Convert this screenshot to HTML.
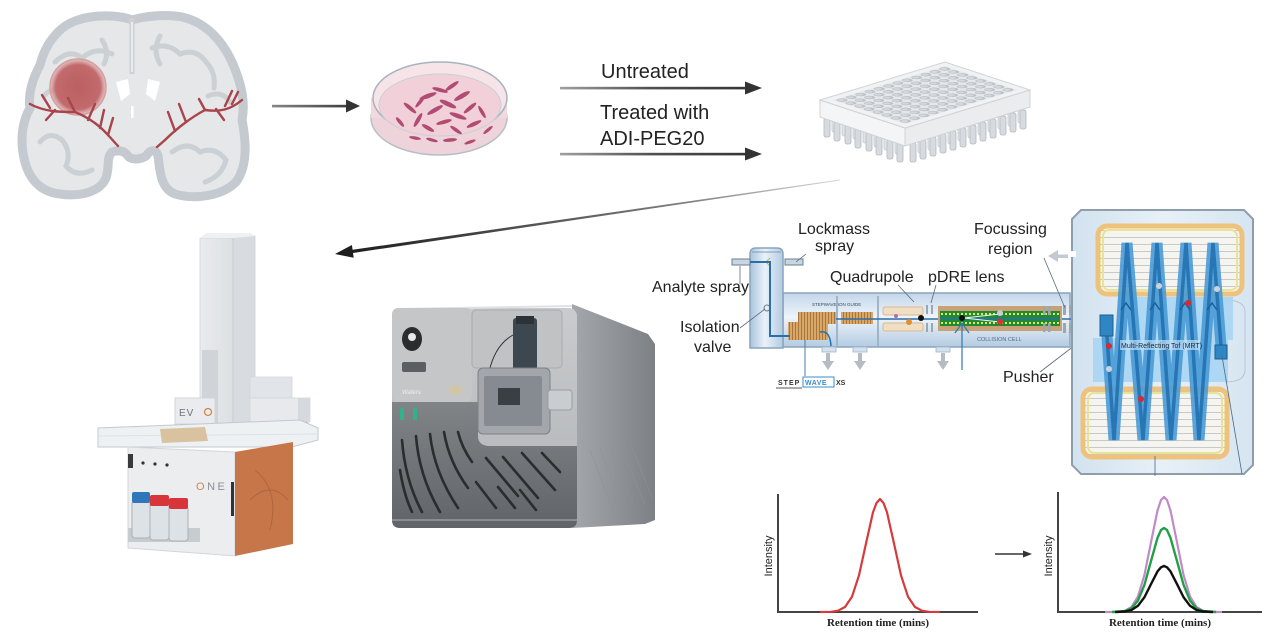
<!DOCTYPE html>
<html><head><meta charset="utf-8">
<style>
html,body{margin:0;padding:0;background:#fff;}
svg{display:block;}
text{font-family:"Liberation Sans",Arial,sans-serif;}
</style></head><body>
<svg width="1280" height="640" viewBox="0 0 1280 640" xmlns="http://www.w3.org/2000/svg">
<defs>
 <linearGradient id="gArr" x1="560" y1="0" x2="760" y2="0" gradientUnits="userSpaceOnUse"><stop offset="0" stop-color="#a0a0a0"/><stop offset=".45" stop-color="#505050"/><stop offset="1" stop-color="#333"/></linearGradient>
 <linearGradient id="gArr0" x1="270" y1="0" x2="360" y2="0" gradientUnits="userSpaceOnUse"><stop offset="0" stop-color="#888"/><stop offset="1" stop-color="#333"/></linearGradient>
 <linearGradient id="gDiag" x1="840" y1="180" x2="335" y2="254" gradientUnits="userSpaceOnUse"><stop offset="0" stop-color="#d8d8d8"/><stop offset=".3" stop-color="#808080"/><stop offset="1" stop-color="#1a1a1a"/></linearGradient>
 <radialGradient id="gTum" cx=".5" cy=".5" r=".5"><stop offset="0" stop-color="#bb5f62"/><stop offset=".8" stop-color="#c26a6c"/><stop offset="1" stop-color="#d99a9a" stop-opacity=".5"/></radialGradient>
 <linearGradient id="gTube" x1="0" y1="0" x2="1" y2="0"><stop offset="0" stop-color="#a9c4dd"/><stop offset=".45" stop-color="#e9f1f9"/><stop offset="1" stop-color="#b3cbe2"/></linearGradient>
 <linearGradient id="gBody" x1="0" y1="0" x2="0" y2="1"><stop offset="0" stop-color="#c2d7ea"/><stop offset=".45" stop-color="#eef4fa"/><stop offset="1" stop-color="#b3cbe2"/></linearGradient>
 <linearGradient id="gSide" x1="0" y1="0" x2="1" y2="0"><stop offset="0" stop-color="#a4a7ab"/><stop offset="1" stop-color="#7d8084"/></linearGradient>
 <linearGradient id="gFront" x1="0" y1="0" x2="0" y2="1"><stop offset="0" stop-color="#c9cbcd"/><stop offset="1" stop-color="#b0b3b6"/></linearGradient>
 <linearGradient id="gLow" x1="0" y1="0" x2="0" y2="1"><stop offset="0" stop-color="#808487"/><stop offset="1" stop-color="#616468"/></linearGradient>
 <linearGradient id="gMRT" x1="0" y1="0" x2="1" y2="0"><stop offset="0" stop-color="#d2e2ef"/><stop offset=".5" stop-color="#e7f0f7"/><stop offset="1" stop-color="#d6e5f1"/></linearGradient>
 <linearGradient id="gTower" x1="0" y1="0" x2="1" y2="0"><stop offset="0" stop-color="#e9ebee"/><stop offset="1" stop-color="#dcdfe3"/></linearGradient>
 <pattern id="hatch" width="3" height="4" patternUnits="userSpaceOnUse"><rect width="3" height="4" fill="#d8a868"/><rect width="1" height="4" fill="#a9753b"/></pattern>
 <pattern id="wells" width="1" height="1" patternUnits="userSpaceOnUse"><rect width="1" height="1" fill="#e6e8eb"/><circle cx=".5" cy=".5" r=".42" fill="#bcc2c8"/><circle cx=".45" cy=".45" r=".27" fill="#d3d7db"/></pattern>
 <pattern id="frameLines" width="10" height="7" patternUnits="userSpaceOnUse"><rect width="10" height="7" fill="#f6f4ee"/><rect y="6" width="10" height="1" fill="#c6c9cd"/></pattern>
</defs>

<!-- ================= BRAIN ================= -->
<g>
 <path d="M132,20 C120,15 95,14 78,20 C58,26 45,45 40,65 C32,80 28,95 30,108 C22,122 20,140 24,158 C28,178 40,192 60,194 C80,197 100,192 106,178 C110,166 106,158 112,152 C118,150 124,150 128,156 C131,160 140,160 146,156 C150,150 156,148 158,156 C160,170 160,188 175,194 C195,200 222,196 236,182 C248,166 246,140 242,120 C246,100 240,80 232,62 C222,40 205,22 182,17 C165,14 145,16 132,20 Z" fill="#e5e7e9" stroke="#c4cacf" stroke-width="9"/>
 <g fill="none" stroke="#cbd0d5" stroke-width="5" stroke-linecap="round">
  <path d="M55,62 Q70,48 82,58 Q96,46 112,54"/>
  <path d="M152,48 Q168,42 180,54 Q196,48 206,62 Q216,72 214,88"/>
  <path d="M40,142 Q50,130 62,140 Q72,152 66,166 Q76,178 92,170"/>
  <path d="M172,152 Q188,140 200,152 Q215,146 226,160 Q222,176 205,182"/>
  <path d="M44,96 Q52,86 60,92"/>
  <path d="M208,96 Q222,90 230,102"/>
  <path d="M102,40 Q110,52 104,64"/>
  <path d="M160,36 Q152,50 160,64"/>
 </g>
 <line x1="132" y1="18" x2="132" y2="74" stroke="#ccd1d5" stroke-width="5"/>
 <line x1="132" y1="22" x2="132" y2="72" stroke="#ffffff" stroke-width="1.2"/>
 <path d="M116,82 L128,79 L130,94 L121,101 Z" fill="#ffffff"/>
 <path d="M148,79 L160,82 L155,101 L146,94 Z" fill="#ffffff"/>
 <rect x="131" y="106" width="2.5" height="12" fill="#ffffff"/>
 <circle cx="78" cy="87" r="28" fill="url(#gTum)" stroke="#d7a0a0" stroke-width="1.5"/>
 <g fill="none" stroke="#a8444a" stroke-width="2.4" stroke-linecap="round">
  <path d="M30,104 C45,112 60,112 75,112 C90,118 100,126 108,135 L118,146"/>
  <path d="M75,112 L68,98"/><path d="M50,108 L42,95"/><path d="M88,120 L95,104"/>
  <path d="M100,128 L104,110"/><path d="M108,135 L113,118"/><path d="M55,110 L46,120"/>
  <path d="M242,100 C230,110 220,112 205,110 C190,118 175,130 165,140 L157,147"/>
  <path d="M205,110 L199,99"/><path d="M225,106 L232,91"/><path d="M186,122 L179,104"/>
  <path d="M175,131 L168,112"/><path d="M216,109 L224,120"/><path d="M232,104 L238,92"/>
 </g>
</g>

<!-- arrow brain -> dish -->
<rect x="272" y="104.8" width="76" height="2.6" fill="url(#gArr0)"/>
<polygon points="360,106 346,99.5 346,112.5" fill="#333"/>

<!-- ================= PETRI DISH ================= -->
<g>
 <ellipse cx="439" cy="118" rx="68" ry="37" fill="#efd3da" stroke="#b6bfc8" stroke-width="1.5"/>
 <rect x="371" y="98" width="136" height="20" fill="#f1d9df"/>
 <ellipse cx="440" cy="98" rx="67" ry="36" fill="#f6e4e8" stroke="#a8b3bd" stroke-width="1.5"/>
 <ellipse cx="440" cy="105" rx="61" ry="31" fill="#f1d0d9" stroke="#c9d0d6" stroke-width="1"/>
 <g fill="#b24b72">
  <ellipse cx="410" cy="108" rx="8" ry="2" transform="rotate(40 410 108)"/>
  <ellipse cx="418" cy="120" rx="8" ry="2" transform="rotate(-60 418 120)"/>
  <ellipse cx="428" cy="96" rx="9" ry="2.2" transform="rotate(-20 428 96)"/>
  <ellipse cx="440" cy="90" rx="8" ry="2" transform="rotate(15 440 90)"/>
  <ellipse cx="452" cy="86" rx="8" ry="2" transform="rotate(-35 452 86)"/>
  <ellipse cx="462" cy="96" rx="9" ry="2.3" transform="rotate(-30 462 96)"/>
  <ellipse cx="470" cy="108" rx="8" ry="2" transform="rotate(-40 470 108)"/>
  <ellipse cx="448" cy="104" rx="9" ry="2.4" transform="rotate(25 448 104)"/>
  <ellipse cx="435" cy="110" rx="9" ry="2.2" transform="rotate(-30 435 110)"/>
  <ellipse cx="458" cy="116" rx="9" ry="2.2" transform="rotate(20 458 116)"/>
  <ellipse cx="444" cy="122" rx="8" ry="2" transform="rotate(-15 444 122)"/>
  <ellipse cx="428" cy="128" rx="7" ry="2" transform="rotate(30 428 128)"/>
  <ellipse cx="474" cy="124" rx="8" ry="2" transform="rotate(-25 474 124)"/>
  <ellipse cx="482" cy="112" rx="7" ry="1.8" transform="rotate(60 482 112)"/>
  <ellipse cx="400" cy="122" rx="6" ry="1.8" transform="rotate(50 400 122)"/>
  <ellipse cx="415" cy="138" rx="6" ry="1.6" transform="rotate(10 415 138)"/>
  <ellipse cx="450" cy="140" rx="7" ry="1.8" transform="rotate(-5 450 140)"/>
  <ellipse cx="470" cy="142" rx="6" ry="1.6" transform="rotate(-20 470 142)"/>
  <ellipse cx="432" cy="140" rx="6" ry="1.6" transform="rotate(15 432 140)"/>
  <ellipse cx="488" cy="130" rx="6" ry="1.6" transform="rotate(-40 488 130)"/>
  <ellipse cx="420" cy="102" rx="7" ry="1.8" transform="rotate(-50 420 102)"/>
  <ellipse cx="456" cy="130" rx="7" ry="1.8" transform="rotate(35 456 130)"/>
 </g>
</g>

<!-- treatment arrows -->
<text x="601" y="78" font-size="20" fill="#222">Untreated</text>
<rect x="560" y="86.8" width="188" height="2.6" fill="url(#gArr)"/>
<polygon points="762,88 745,81.5 745,94.5" fill="#333"/>
<text x="600" y="119" font-size="20" fill="#222">Treated with</text>
<text x="600" y="145" font-size="20" fill="#222">ADI-PEG20</text>
<rect x="560" y="152.8" width="188" height="2.6" fill="url(#gArr)"/>
<polygon points="762,154 745,147.5 745,160.5" fill="#333"/>

<!-- ================= 96 WELL PLATE ================= -->
<g>
 <g fill="#e2e5e8" stroke="#c3c8cd" stroke-width="0.8">
  <rect x="918" y="136" width="6" height="17" rx="2"/><rect x="928" y="133" width="6" height="17" rx="2"/>
  <rect x="938" y="130" width="6" height="17" rx="2"/><rect x="948" y="127" width="6" height="17" rx="2"/>
  <rect x="958" y="124" width="6" height="17" rx="2"/><rect x="968" y="121" width="6" height="17" rx="2"/>
  <rect x="978" y="118" width="6" height="17" rx="2"/><rect x="988" y="115" width="6" height="17" rx="2"/>
  <rect x="998" y="112" width="6" height="17" rx="2"/><rect x="1008" y="109" width="6" height="17" rx="2"/>
  <rect x="1018" y="106" width="6" height="17" rx="2"/>
  <rect x="832" y="115" width="6" height="17" rx="2"/><rect x="842" y="119" width="6" height="17" rx="2"/>
  <rect x="853" y="122" width="6" height="17" rx="2"/><rect x="863" y="126" width="6" height="17" rx="2"/>
  <rect x="874" y="130" width="6" height="17" rx="2"/><rect x="884" y="133" width="6" height="17" rx="2"/>
  <rect x="895" y="137" width="6" height="17" rx="2"/>
 </g>
 <g fill="#d7dbdf" stroke="#b3b9bf" stroke-width="0.8">
  <rect x="910" y="143" width="6" height="19" rx="2"/><rect x="920" y="140" width="6" height="19" rx="2"/>
  <rect x="930" y="137" width="6" height="19" rx="2"/><rect x="940" y="134" width="6" height="19" rx="2"/>
  <rect x="950" y="131" width="6" height="19" rx="2"/><rect x="960" y="128" width="6" height="19" rx="2"/>
  <rect x="970" y="125" width="6" height="19" rx="2"/><rect x="980" y="122" width="6" height="19" rx="2"/>
  <rect x="990" y="119" width="6" height="19" rx="2"/><rect x="1000" y="116" width="6" height="19" rx="2"/>
  <rect x="1010" y="113" width="6" height="19" rx="2"/><rect x="1020" y="110" width="6" height="19" rx="2"/>
  <rect x="824" y="118" width="6" height="19" rx="2"/><rect x="834" y="122" width="6" height="19" rx="2"/>
  <rect x="845" y="125" width="6" height="19" rx="2"/><rect x="855" y="129" width="6" height="19" rx="2"/>
  <rect x="866" y="132" width="6" height="19" rx="2"/><rect x="876" y="136" width="6" height="19" rx="2"/>
  <rect x="887" y="140" width="6" height="19" rx="2"/><rect x="897" y="143" width="6" height="19" rx="2"/>
 </g>
 <polygon points="820,100 905,128 905,146 820,117" fill="#f4f5f6" stroke="#cfd3d7" stroke-width="1"/>
 <polygon points="905,128 1030,90 1030,107 905,146" fill="#eaecee" stroke="#cfd3d7" stroke-width="1"/>
 <g transform="matrix(9.328,-2.836,9.043,2.979,832.86,100.1)">
  <rect x="-0.7" y="-0.7" width="13.4" height="9.4" fill="#f1f2f4" stroke="#cfd3d7" stroke-width="1" vector-effect="non-scaling-stroke"/>
  <rect x="0" y="0" width="12" height="8" fill="url(#wells)"/>
 </g>
</g>

<!-- diagonal arrow -->
<polygon points="335,254 353.7,257.8 353,253 840.1,180.5 839.9,179.5 352.6,249.8 351.9,245" fill="url(#gDiag)"/>

<!-- ================= EVO ONE ================= -->
<g>
 <rect x="233" y="236" width="22" height="194" fill="#d8dbdf" stroke="#cdd1d6" stroke-width="0.8"/>
 <rect x="200" y="238" width="33" height="192" fill="url(#gTower)" stroke="#d3d7db" stroke-width="0.8"/>
 <polygon points="200,238 206,233 250,233 255,236 233,238" fill="#eef0f2"/>
 <rect x="202" y="350" width="16" height="74" fill="#d0d3d7"/>
 <line x1="233" y1="238" x2="233" y2="430" stroke="#c8ccd1" stroke-width="1"/>
 <polygon points="250,377 292,377 292,398 250,398" fill="#e1e4e8" stroke="#d3d7db" stroke-width="0.8"/>
 <rect x="250" y="398" width="60" height="24" fill="#e7e9ec" stroke="#d3d7db" stroke-width="0.8"/>
 <rect x="298" y="398" width="12" height="24" fill="#d6d9dd"/>
 <line x1="277" y1="422" x2="277" y2="436" stroke="#9aa0a6" stroke-width="3"/>
 <line x1="306" y1="422" x2="312" y2="432" stroke="#9aa0a6" stroke-width="2"/>
 <rect x="175" y="398" width="40" height="26" fill="#e9ebee" stroke="#d2d6da" stroke-width="1"/>
 <text x="179" y="416" font-size="10" fill="#6f757c" letter-spacing="1">EV</text>
 <circle cx="208" cy="412" r="3.5" fill="none" stroke="#d0884c" stroke-width="1.3"/>
 <line x1="182" y1="424" x2="182" y2="433" stroke="#9aa0a6" stroke-width="2.5"/>
 <line x1="196" y1="424" x2="196" y2="434" stroke="#9aa0a6" stroke-width="3"/>
 <line x1="215" y1="424" x2="217" y2="440" stroke="#9aa0a6" stroke-width="1.5"/>
 <polygon points="98,428 300,420 318,428 318,440 292,447 98,447" fill="#eef1f3" stroke="#c3c9cf" stroke-width="1"/>
 <line x1="98" y1="436" x2="318" y2="434" stroke="#dce1e5" stroke-width="1"/>
 <polygon points="160,429 205,427 208,441 162,443" fill="#d9c2a0"/>
 <polygon points="128,447 235,452 235,556 128,548" fill="#ebedef" stroke="#d3d6da" stroke-width="1"/>
 <polygon points="235,452 293,442 293,544 235,556" fill="#c7764a"/>
 <path d="M255,470 Q280,490 270,530 M250,500 Q270,480 288,500" fill="none" stroke="#b0653d" stroke-width="1"/>
 <rect x="231" y="482" width="3" height="34" fill="#333"/>
 <rect x="128" y="454" width="5" height="14" fill="#3a3a3a"/>
 <circle cx="143" cy="463" r="1.6" fill="#333"/><circle cx="155" cy="464" r="1.6" fill="#333"/><circle cx="167" cy="465" r="1.6" fill="#333"/>
 <text x="196" y="490" font-size="11" fill="#8b9097" letter-spacing="2.5"><tspan fill="#d0884c">O</tspan>NE</text>
 <rect x="128" y="528" width="72" height="14" fill="#c7ccd1"/>
 <rect x="132" y="501" width="18" height="37" rx="3" fill="#dde2e6" stroke="#aab1b8" stroke-width="1"/>
 <rect x="150" y="504" width="19" height="36" rx="3" fill="#dde2e6" stroke="#aab1b8" stroke-width="1"/>
 <rect x="169" y="506" width="19" height="35" rx="3" fill="#dde2e6" stroke="#aab1b8" stroke-width="1"/>
 <rect x="132" y="492" width="18" height="11" rx="2" fill="#2f77b8"/>
 <rect x="150" y="495" width="19" height="11" rx="2" fill="#d8343c"/>
 <rect x="169" y="498" width="19" height="11" rx="2" fill="#d8343c"/>
</g>

<!-- ================= WATERS MS ================= -->
<g>
 <polygon points="572,304 648,334 655,344 655,520 645,524 572,528" fill="url(#gSide)"/>
 <g stroke="#8e9195" stroke-width="0.8" opacity=".7">
  <line x1="590" y1="450" x2="615" y2="515"/><line x1="600" y1="448" x2="625" y2="512"/>
  <line x1="610" y1="446" x2="635" y2="508"/><line x1="620" y1="444" x2="645" y2="505"/>
  <line x1="630" y1="442" x2="652" y2="498"/>
 </g>
 <rect x="392" y="308" width="185" height="220" rx="8" fill="url(#gFront)"/>
 <line x1="398" y1="309" x2="572" y2="306" stroke="#dfe1e3" stroke-width="2"/>
 <rect x="392" y="308" width="80" height="94" rx="6" fill="#c4c6c8"/>
 <rect x="472" y="310" width="90" height="58" rx="4" fill="#c0c2c4" stroke="#a9acaf" stroke-width="1"/>
 <path d="M392,402 L478,402 L478,436 Q478,446 490,446 L577,446 L577,520 Q577,528 569,528 L400,528 Q392,528 392,520 Z" fill="url(#gLow)"/>
 <g stroke="#2a2c2e" stroke-width="2.6" fill="none" stroke-linecap="round">
  <path d="M402,440 Q405,480 422,512"/>
  <path d="M416,436 Q419,476 440,512"/>
  <path d="M430,434 Q434,472 458,508"/>
  <path d="M444,432 Q449,462 468,488"/>
  <path d="M458,432 Q462,448 472,462"/>
  <path d="M400,470 Q404,495 412,512"/>
  <line x1="486" y1="458" x2="518" y2="496"/>
  <line x1="503" y1="457" x2="538" y2="498"/>
  <line x1="522" y1="453" x2="555" y2="490"/>
  <line x1="542" y1="453" x2="560" y2="472"/>
  <line x1="476" y1="482" x2="496" y2="508"/>
  <line x1="498" y1="487" x2="515" y2="508"/>
  <line x1="520" y1="490" x2="536" y2="510"/>
 </g>
 <line x1="392" y1="520" x2="577" y2="520" stroke="#8a8d91" stroke-width="2"/>
 <ellipse cx="412" cy="339" rx="10" ry="12" fill="#2a2c2e"/>
 <circle cx="412" cy="337" r="4" fill="#e8e8e8"/>
 <rect x="402" y="362" width="24" height="10" rx="2" fill="#5b5e62"/>
 <text x="402" y="394" font-size="6" fill="#eef0f2" font-style="italic">Waters</text>
 <rect x="450" y="386" width="12" height="8" fill="#d7c39a" opacity=".8"/>
 <rect x="400" y="408" width="4" height="12" rx="1" fill="#2fb38a"/>
 <rect x="413" y="408" width="4" height="12" rx="1" fill="#2fb38a"/>
 <rect x="513" y="318" width="24" height="54" rx="3" fill="#3c4750"/>
 <rect x="516" y="316" width="18" height="8" fill="#2b333a"/>
 <path d="M513,335 Q495,345 489,372" fill="none" stroke="#333" stroke-width="1"/>
 <rect x="478" y="368" width="72" height="66" rx="5" fill="#a3a7ab" stroke="#7d8186" stroke-width="1"/>
 <rect x="484" y="376" width="58" height="50" rx="2" fill="#868b91"/>
 <rect x="498" y="388" width="22" height="17" fill="#3a3f44"/>
 <rect x="548" y="390" width="24" height="20" rx="3" fill="#c9ccd0" stroke="#9a9ea2" stroke-width="1"/>
</g>

<!-- ================= SCHEMATIC ================= -->
<g>
 <rect x="783" y="293" width="287" height="54" fill="url(#gBody)" stroke="#8aa4bc" stroke-width="1.5"/>
 <line x1="837" y1="296" x2="837" y2="346" stroke="#9db6cc" stroke-width="2"/>
 <line x1="878" y1="296" x2="878" y2="346" stroke="#9db6cc" stroke-width="2"/>
 <path d="M750,348 L750,254 Q750,248 756,248 L777,248 Q783,248 783,254 L783,348 Z" fill="url(#gTube)" stroke="#8aa4bc" stroke-width="1.5"/>
 <line x1="752" y1="252" x2="781" y2="252" stroke="#7f9bb5" stroke-width="1"/>
 <rect x="732" y="259" width="18" height="6" fill="#c9d6e2" stroke="#6a7f94" stroke-width="1"/>
 <rect x="785" y="259" width="18" height="6" fill="#c9d6e2" stroke="#6a7f94" stroke-width="1"/>
 <circle cx="767" cy="308" r="3" fill="none" stroke="#6a7f94" stroke-width="1"/>
 <path d="M770,258 L766,262 L770,266" fill="none" stroke="#c9b04a" stroke-width="1"/>
 <rect x="822" y="347" width="14" height="5" fill="#d5e2ee" stroke="#9db6cc" stroke-width="0.8"/>
 <rect x="853" y="347" width="14" height="5" fill="#d5e2ee" stroke="#9db6cc" stroke-width="0.8"/>
 <rect x="936" y="347" width="14" height="5" fill="#d5e2ee" stroke="#9db6cc" stroke-width="0.8"/>
 <g fill="#b5bcc3">
  <rect x="826" y="353" width="4" height="9"/><polygon points="822,361 834,361 828,370"/>
  <rect x="858" y="353" width="4" height="9"/><polygon points="854,361 866,361 860,370"/>
  <rect x="941" y="353" width="4" height="9"/><polygon points="937,361 949,361 943,370"/>
 </g>
 <rect x="798" y="312" width="38" height="12" fill="url(#hatch)"/>
 <rect x="841" y="312" width="32" height="12" fill="url(#hatch)"/>
 <rect x="788" y="322" width="40" height="18" fill="url(#hatch)"/>
 <text x="812" y="306" font-size="4.5" fill="#3a4a5a">STEPWAVE ION GUIDE</text>
 <polyline points="750,262 770,262 770,336 790,336" fill="none" stroke="#2b6fa8" stroke-width="2"/>
 <path d="M820,332 Q830,330 831,346" fill="none" stroke="#2b6fa8" stroke-width="1.5"/>
 <line x1="836" y1="319" x2="1105" y2="319" stroke="#2b6fa8" stroke-width="1.6"/>
 <rect x="883" y="307" width="40" height="8" rx="2" fill="#f1dfc4" stroke="#d8b990" stroke-width="1"/>
 <rect x="883" y="323" width="40" height="8" rx="2" fill="#f1dfc4" stroke="#d8b990" stroke-width="1"/>
 <circle cx="896" cy="316" r="2" fill="#b36ab8"/>
 <circle cx="909" cy="322" r="3" fill="#e0902f"/>
 <circle cx="921" cy="318" r="3" fill="#111"/>
 <g fill="#9aa7b3"><rect x="926" y="305" width="2" height="9"/><rect x="931" y="305" width="2" height="9"/><rect x="926" y="323" width="2" height="9"/><rect x="931" y="323" width="2" height="9"/></g>
 <rect x="938" y="306" width="124" height="25" fill="#c8a276"/>
 <rect x="940" y="311" width="120" height="15" fill="#1f8a30"/>
 <line x1="941" y1="314" x2="1059" y2="314" stroke="#e4e46a" stroke-width="2" stroke-dasharray="2,2"/>
 <line x1="941" y1="323" x2="1059" y2="323" stroke="#e4e46a" stroke-width="2" stroke-dasharray="2,2"/>
 <line x1="940" y1="318.5" x2="1060" y2="318.5" stroke="#2b6fa8" stroke-width="1.5"/>
 <path d="M964,318 L1000,314 M964,318 L1000,322" stroke="#f4f4f4" stroke-width="1"/>
 <circle cx="962" cy="318" r="3" fill="#111"/>
 <circle cx="1000" cy="313" r="3" fill="#c8cdd2"/>
 <circle cx="1000" cy="322" r="3" fill="#e03030"/>
 <text x="977" y="341" font-size="5.5" fill="#4d6e8a">COLLISION CELL</text>
 <line x1="962" y1="323" x2="962" y2="370" stroke="#2b7ab0" stroke-width="1.2"/>
 <polyline points="955,333 962,323 969,333" fill="none" stroke="#2b7ab0" stroke-width="1.2"/>
 <g fill="#9aa7b3"><rect x="1043" y="306" width="2.5" height="9"/><rect x="1048" y="306" width="2.5" height="9"/><rect x="1043" y="323" width="2.5" height="9"/><rect x="1048" y="323" width="2.5" height="9"/>
 <rect x="1063" y="305" width="3" height="10"/><rect x="1069" y="305" width="3" height="10"/><rect x="1063" y="323" width="3" height="10"/><rect x="1069" y="323" width="3" height="10"/></g>
 <line x1="805" y1="340" x2="805" y2="376" stroke="#4a7ea8" stroke-width="1"/>
 <text x="778" y="385" font-size="7" font-weight="bold" fill="#333" letter-spacing="1">STEP</text>
 <line x1="776" y1="388" x2="802" y2="388" stroke="#555" stroke-width="1"/>
 <rect x="803" y="377" width="31" height="10" fill="#fff" stroke="#3a8cc7" stroke-width="1"/>
 <text x="805" y="385" font-size="7" font-weight="bold" fill="#3a8cc7" letter-spacing="0.5">WAVE</text>
 <text x="836" y="385" font-size="7" font-weight="bold" fill="#333">XS</text>
 <g stroke="#5a6a7a" stroke-width="0.8" fill="none">
  <line x1="740" y1="266" x2="740" y2="284"/>
  <line x1="806" y1="254" x2="796" y2="262"/>
  <line x1="740" y1="328" x2="765" y2="309"/>
  <line x1="898" y1="285" x2="914" y2="302"/>
  <line x1="936" y1="285" x2="931" y2="303"/>
  <line x1="1044" y1="258" x2="1065" y2="308"/>
  <line x1="1040" y1="372" x2="1100" y2="326"/>
 </g>
 <text x="798" y="234" font-size="16" fill="#222">Lockmass</text>
 <text x="815" y="251" font-size="16" fill="#222">spray</text>
 <text x="974" y="234" font-size="16" fill="#222">Focussing</text>
 <text x="988" y="254" font-size="16" fill="#222">region</text>
 <text x="652" y="292" font-size="16" fill="#222">Analyte spray</text>
 <text x="830" y="282" font-size="16" fill="#222">Quadrupole</text>
 <text x="928" y="282" font-size="16" fill="#222">pDRE lens</text>
 <text x="680" y="332" font-size="16" fill="#222">Isolation</text>
 <text x="694" y="352" font-size="16" fill="#222">valve</text>
 <text x="1003" y="382" font-size="16" fill="#222">Pusher</text>
</g>

<!-- ================= MRT ================= -->
<g>
 <polygon points="1081,210 1244,210 1253,219 1253,465 1244,474 1081,474 1072,465 1072,219" fill="url(#gMRT)" stroke="#8e9eac" stroke-width="2"/>
 <rect x="1068" y="251" width="8" height="6" fill="#fff"/>
 <rect x="1056" y="254.5" width="12" height="3.5" fill="#c3cad1"/>
 <polygon points="1048,256 1058,250 1058,262" fill="#c3cad1"/>
 <rect x="1098" y="226" width="144" height="68" rx="9" fill="url(#frameLines)" stroke="#efc27c" stroke-width="5"/>
 <rect x="1103" y="230" width="134" height="60" rx="6" fill="none" stroke="#e6e39a" stroke-width="2"/>
 <rect x="1083" y="389" width="144" height="68" rx="9" fill="url(#frameLines)" stroke="#efc27c" stroke-width="5"/>
 <rect x="1088" y="393" width="134" height="60" rx="6" fill="none" stroke="#e6e39a" stroke-width="2"/>
 <path d="M1225,300 Q1245,300 1245,312 L1245,370 Q1245,382 1225,382" fill="none" stroke="#b8c6d2" stroke-width="1"/>
 <polygon points="1118,297 1233,297 1233,340 1228,340 1228,382 1093,382 1093,338 1118,338" fill="#a5d3f2" opacity=".85"/>
 <polyline points="1107,336 1114,440 1127,243 1143,440 1157,243 1171,440 1186,243 1199,440 1213,243 1221,346" fill="none" stroke="#4a9ad6" stroke-width="11" stroke-linejoin="bevel" opacity=".9"/>
 <polyline points="1107,336 1114,440 1127,243 1143,440 1157,243 1171,440 1186,243 1199,440 1213,243 1221,346" fill="none" stroke="#1f6fae" stroke-width="3.5" stroke-linejoin="bevel" opacity=".85"/>
 <g fill="none" stroke="#1b5f98" stroke-width="1.5">
  <polyline points="1121,310 1126,303 1131,310"/><polyline points="1150,310 1155,303 1160,310"/>
  <polyline points="1180,310 1185,303 1190,310"/><polyline points="1207,310 1212,303 1217,310"/>
 </g>
 <rect x="1100" y="315" width="13" height="21" fill="#2f86c2" stroke="#1d5f92" stroke-width="1"/>
 <rect x="1215" y="345" width="12" height="14" fill="#2f86c2" stroke="#1d5f92" stroke-width="1"/>
 <rect x="1120" y="340" width="80" height="10" fill="#bfe0f6" opacity=".7"/>
 <text x="1121" y="348" font-size="7" fill="#1a2a3a">Multi-Reflecting Tof (MRT)</text>
 <g fill="#e0262b"><circle cx="1109" cy="346" r="3"/><circle cx="1141" cy="399" r="3"/><circle cx="1188" cy="303" r="3"/></g>
 <g fill="#cdd3d9"><circle cx="1109" cy="369" r="3"/><circle cx="1159" cy="286" r="3"/><circle cx="1217" cy="289" r="3"/></g>
 <line x1="1155" y1="456" x2="1155" y2="476" stroke="#4a6a88" stroke-width="0.8"/>
 <line x1="1242" y1="474" x2="1222" y2="356" stroke="#4a6a88" stroke-width="0.8"/>
</g>

<!-- ================= CHARTS ================= -->
<g>
 <line x1="778" y1="494" x2="778" y2="613" stroke="#444" stroke-width="2"/>
 <line x1="777" y1="612" x2="978" y2="612" stroke="#444" stroke-width="2"/>
 <polyline points="820,612 831,611.8 838,610.7 845,607 852,596.7 859,575.3 866,543.5 873,512.3 876.5,503 880,499 883.5,503 887,512.3 894,543.5 901,575.3 908,596.7 915,607 922,610.7 929,611.8 940,612" fill="none" stroke="#d63a3a" stroke-width="2.2" stroke-linejoin="round"/>
 <text transform="translate(772,556) rotate(-90)" text-anchor="middle" font-size="11" fill="#222">Intensity</text>
 <text x="878" y="626" text-anchor="middle" font-size="11" font-weight="bold" fill="#222" style="font-family:'Liberation Serif',serif">Retention time (mins)</text>

 <line x1="995" y1="554" x2="1024" y2="554" stroke="#333" stroke-width="1.5"/>
 <polygon points="1032,554 1023,550.5 1023,557.5" fill="#333"/>

 <line x1="1058" y1="492" x2="1058" y2="613" stroke="#444" stroke-width="2"/>
 <line x1="1057" y1="612" x2="1262" y2="612" stroke="#444" stroke-width="2"/>
 <polyline points="1105,612 1118.5,612 1125,610.7 1131.5,607 1138,596.4 1144.5,574.7 1151,542.3 1157.5,510.5 1161,500 1164,497 1167,500 1170.5,510.5 1177,542.3 1183.5,574.7 1190,596.4 1196.5,607 1203,610.7 1209.5,612 1222,612" fill="none" stroke="#c08ac8" stroke-width="2.2" stroke-linejoin="round"/>
 <polyline points="1112,612 1125,611.1 1131.5,608.3 1138,600.6 1144.5,584.7 1151,561.1 1157.5,537.9 1161,530 1164,528 1167,530 1170.5,537.9 1177,561.1 1183.5,584.7 1190,600.6 1196.5,608.3 1203,611.1 1216,612" fill="none" stroke="#22a047" stroke-width="2.4" stroke-linejoin="round"/>
 <polyline points="1115,612 1125,611.5 1131.5,610 1138,605.8 1144.5,597.1 1151,584.1 1157.5,571.4 1161,567.3 1164,566 1167,567.3 1170.5,571.4 1177,584.1 1183.5,597.1 1190,605.8 1196.5,610 1203,611.5 1213,612" fill="none" stroke="#111" stroke-width="2.4" stroke-linejoin="round"/>
 <text transform="translate(1052,556) rotate(-90)" text-anchor="middle" font-size="11" fill="#222">Intensity</text>
 <text x="1160" y="626" text-anchor="middle" font-size="11" font-weight="bold" fill="#222" style="font-family:'Liberation Serif',serif">Retention time (mins)</text>
</g>
</svg>
</body></html>
